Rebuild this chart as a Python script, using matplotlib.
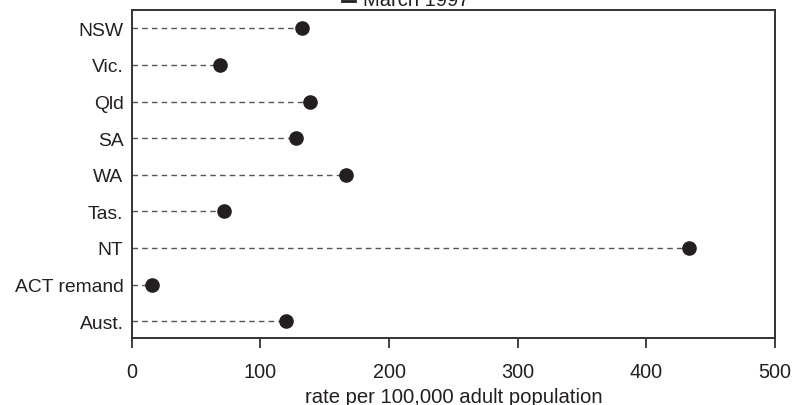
import matplotlib
matplotlib.use("Agg")
import matplotlib.pyplot as plt
from matplotlib.lines import Line2D

plt.rcParams['font.family'] = ['Liberation Sans', 'DejaVu Sans']

regions = ["NSW", "Vic.", "Qld", "SA", "WA", "Tas.", "NT", "ACT remand", "Aust."]
rates = [132.6, 68.4, 138.5, 127.7, 166.5, 71.7, 433.3, 15.5, 119.9]
x_ticks = [0, 100, 200, 300, 400, 500]
x_label = "rate per 100,000 adult population"
series_label = "March 1997"

fig = plt.figure(figsize=(7.95, 4.06), dpi=100)
ax = fig.add_axes([0.1657, 0.1658, 0.9750 - 0.1657, 0.9730 - 0.1658])

ypos = list(range(len(regions)))
ax.hlines(ypos, 0, rates, colors="#555555", linestyles=(0, (4, 3)), linewidth=1.0, zorder=2)
ax.plot(rates, ypos, "o", color="#231f20", markersize=9.5, zorder=3, clip_on=False)

ax.set_xlim(0, 500)
ax.set_ylim(8.45, -0.5)
ax.set_xticks(x_ticks)
ax.set_xticklabels([str(t) for t in x_ticks])
ax.set_yticks(ypos)
ax.set_yticklabels(regions)
ax.tick_params(axis="y", length=0, pad=6, labelsize=13.9, colors="#231f20")
ax.tick_params(axis="x", direction="out", length=7, width=1.2, pad=10.5,
               labelsize=14.3, colors="#231f20")
ax.set_xlabel(x_label, fontsize=14.6, color="#231f20")
ax.xaxis.set_label_coords(0.5, -0.152)

for s in ax.spines.values():
    s.set_color("#333333")
    s.set_linewidth(1.4)

# series key above the plot
fig.add_artist(Line2D([341.7 / 795, 355 / 795], [1 - 1.5 / 406, 1 - 1.5 / 406],
                      color="#231f20", linewidth=2.0, transform=fig.transFigure))
fig.text(363 / 795, 1 - 6 / 406, series_label, fontsize=14.5, color="#231f20",
         ha="left", va="baseline")

fig.savefig("out.png", dpi=100)
